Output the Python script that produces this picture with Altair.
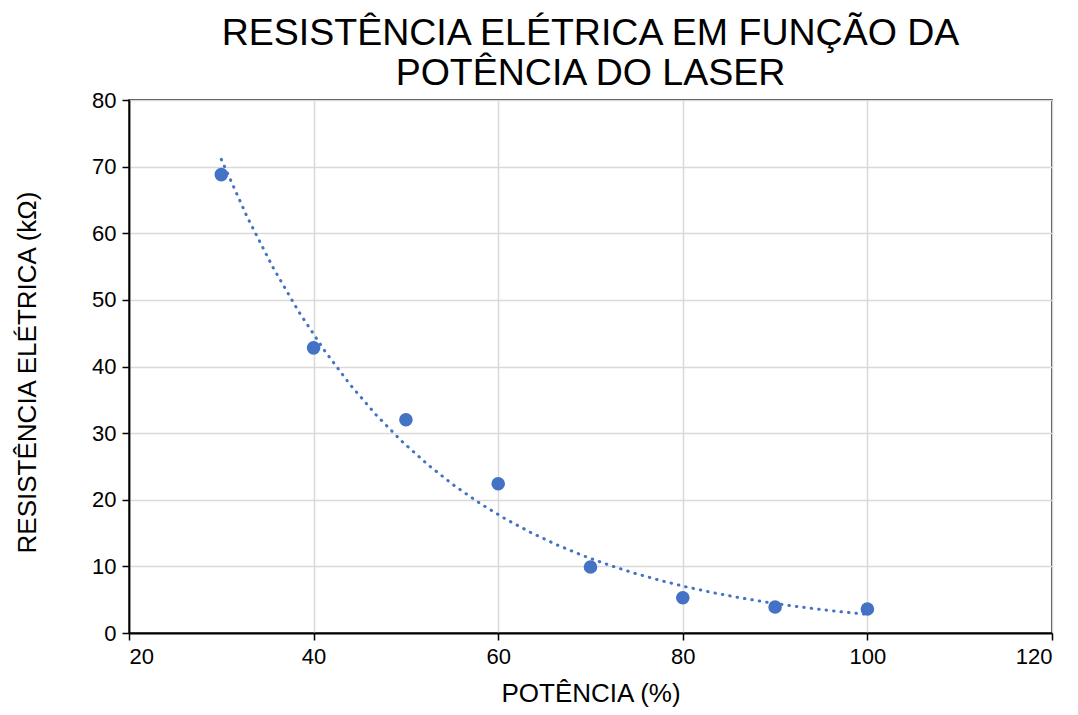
import altair as alt
import pandas as pd

# Data
potencia = [30, 40, 50, 60, 70, 80, 90, 100]
resistencia = [68.8, 42.8, 32.0, 22.4, 9.9, 5.3, 3.9, 3.6]
x_ticks = [20, 40, 60, 80, 100, 120]
y_ticks = [0, 10, 20, 30, 40, 50, 60, 70, 80]
title_lines = ["RESISTÊNCIA ELÉTRICA EM FUNÇÃO DA", "POTÊNCIA DO LASER"]

df = pd.DataFrame({"p": potencia, "r": resistencia})

BLUE = "#4472C4"
FONT = "Liberation Sans"

x = alt.X("p:Q",
          scale=alt.Scale(domain=[20, 120], nice=False, zero=False),
          axis=alt.Axis(values=x_ticks, title="POTÊNCIA (%)",
                        titleY=68, titleBaseline="alphabetic"))
y = alt.Y("r:Q",
          scale=alt.Scale(domain=[0, 80], nice=False),
          axis=alt.Axis(values=y_ticks, title="RESISTÊNCIA ELÉTRICA (kΩ)",
                        titleX=-94, titleY=272, titleBaseline="alphabetic"))

base = alt.Chart(df)

# Exponential trendline (least squares on log values, like a spreadsheet trendline)
trend = base.transform_calculate(
    ly="log(datum.r)"
).transform_regression(
    "p", "ly", method="poly", order=1, extent=[30, 100]
).transform_calculate(
    r="exp(datum.ly)"
).mark_line(
    color=BLUE, strokeWidth=3, strokeDash=[0.5, 7], strokeCap="round"
).encode(x=x, y=y)

points = base.mark_circle(size=185, color=BLUE, opacity=1).encode(x=x, y=y)

chart = alt.layer(trend, points).properties(
    width=923,
    height=533,
    title=alt.Title(title_lines, fontSize=37.5, font=FONT, fontWeight="normal",
                    color="black", lineHeight=40, offset=-3, anchor="middle"),
    autosize=alt.AutoSizeParams(type="none"),
    padding={"left": 121, "top": 92, "right": 18, "bottom": 74},
).configure_view(
    stroke="black", strokeWidth=1.5
).configure_axis(
    labelFont=FONT, labelFontSize=22, labelColor="black", labelPadding=6,
    titleFont=FONT, titleFontSize=26, titleFontWeight="normal", titleColor="black",
    domainColor="black", domainWidth=1.8,
    tickColor="black", tickSize=7, tickWidth=1.5,
    gridColor="#d9d9d9", gridWidth=1.5,
)

chart.save("out.html", embed_options={"renderer": "svg", "actions": False})
